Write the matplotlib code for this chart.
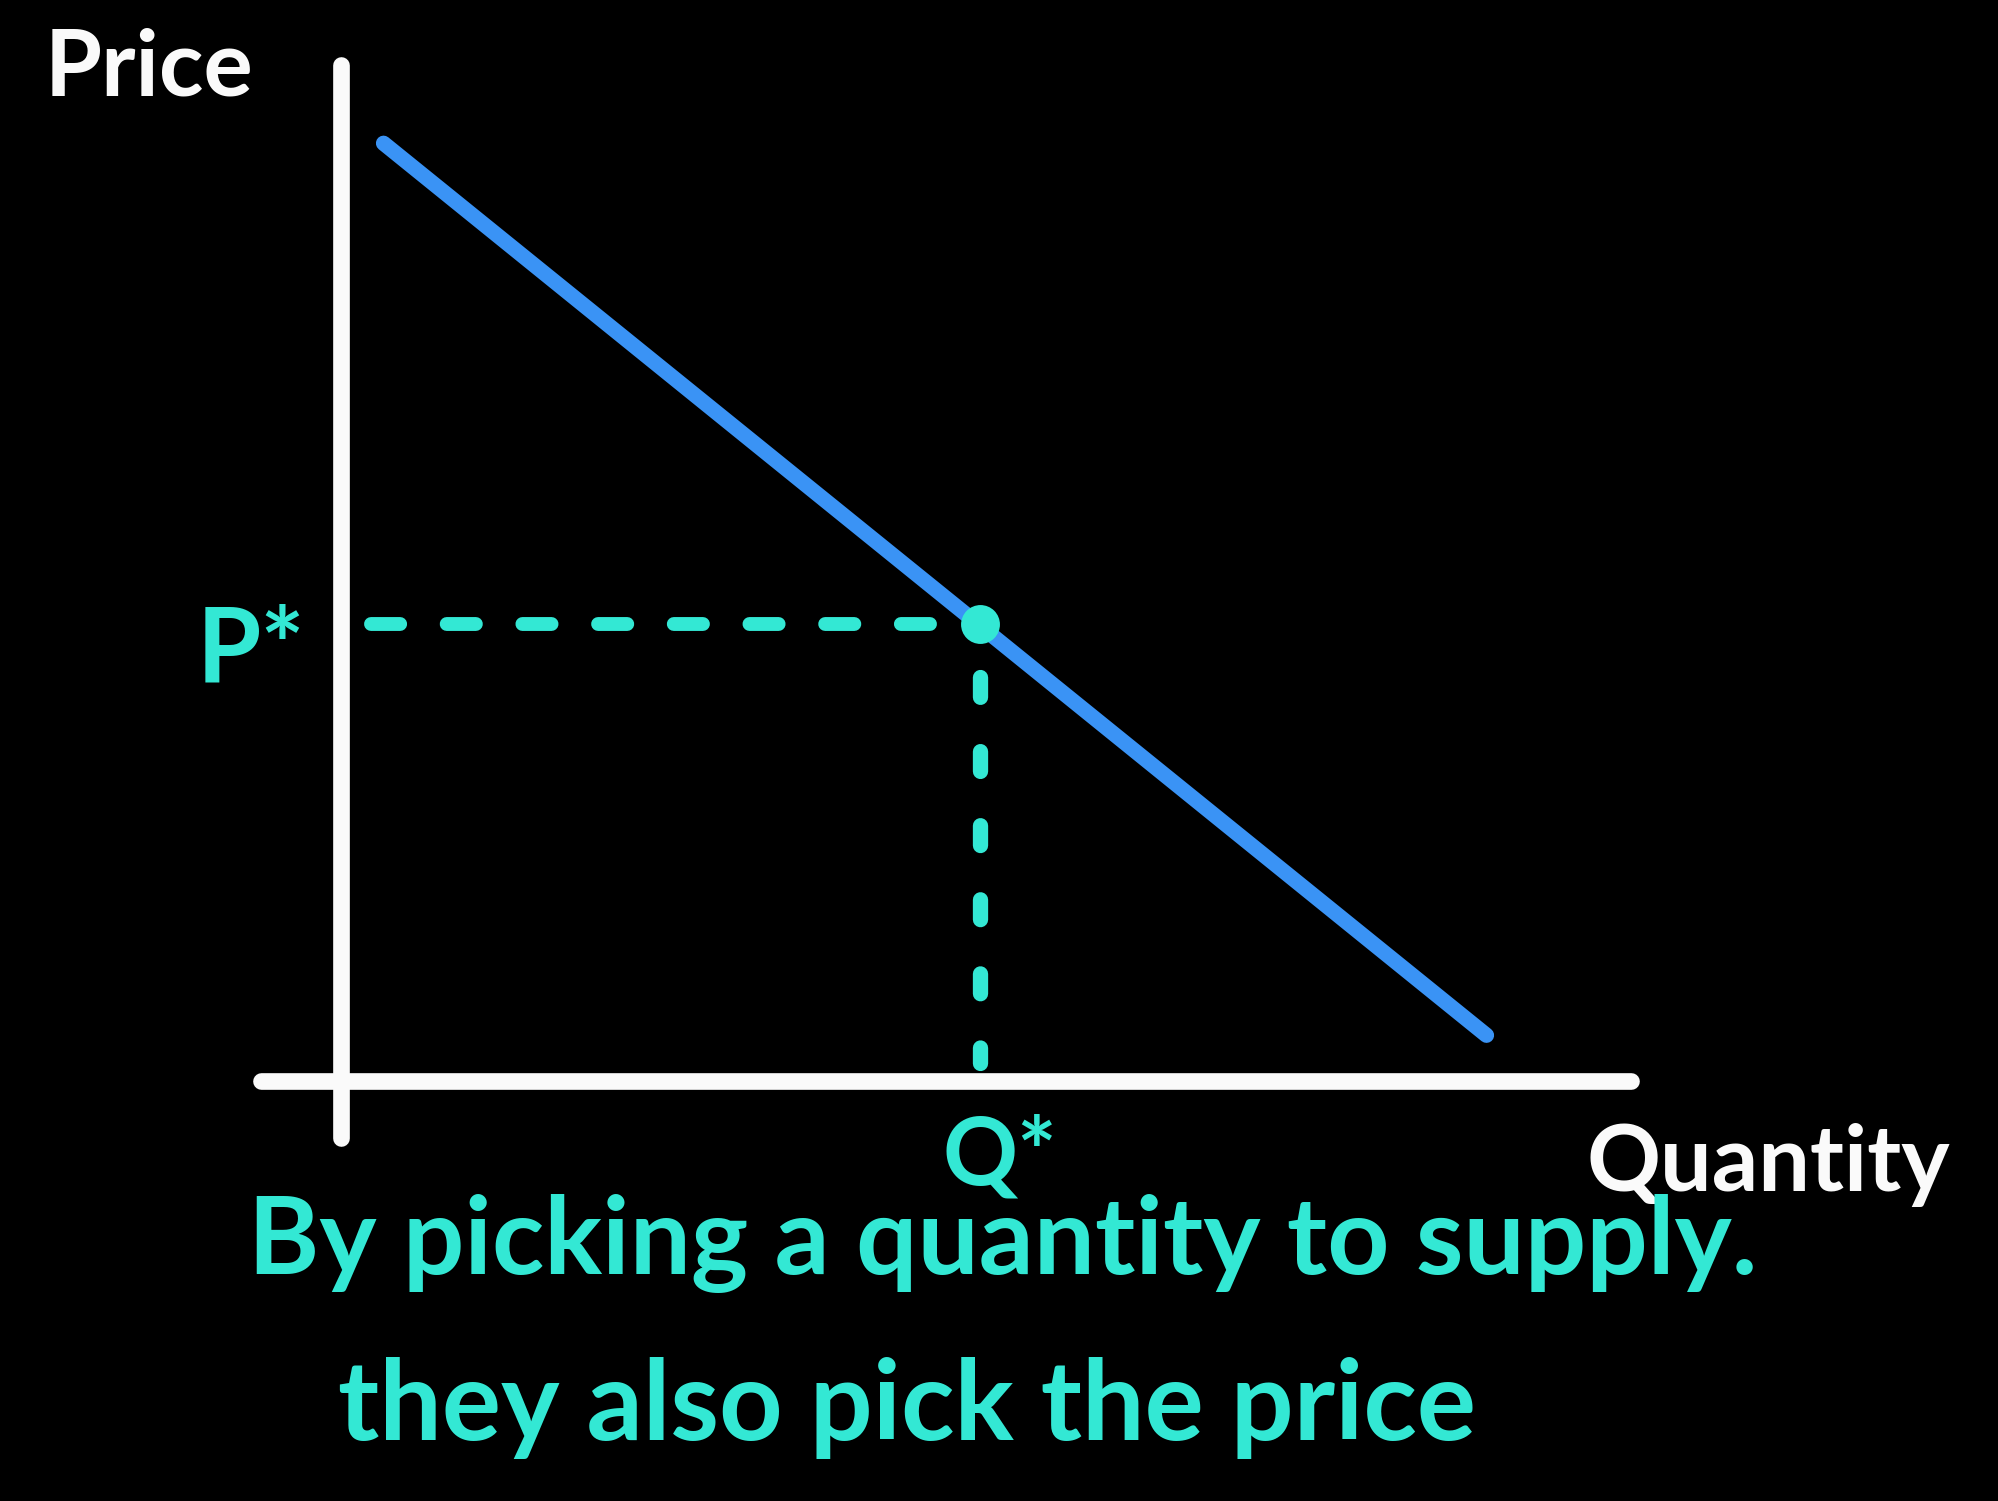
import matplotlib
matplotlib.use("Agg")
import matplotlib.pyplot as plt

# ---- data ----
demand_q = [0.33, 8.88]
demand_p = [9.23, 0.45]
q_star = 4.95
p_star = 4.50
axis_labels = ["Price", "Quantity"]
eq_labels = ["P*", "Q*"]
caption = ["By picking a quantity to supply.", "they also pick the price"]

W, H = 1998, 1501
TEAL = "#33E8D4"
BLUE = "#3A93F5"
WHITE = "#FAFAFA"

fig = plt.figure(figsize=(W / 100, H / 100), dpi=100, facecolor="black")
ax = fig.add_axes([0, 0, 1, 1])
ax.set_facecolor("black")
ax.set_xlim(-2.643, 12.845)
ax.set_ylim(-4.134, 10.640)
ax.axis("off")

# axes lines
ax.plot([0, 0], [-0.56, 10.0], color=WHITE, lw=12, solid_capstyle="round")
ax.plot([-0.62, 10.0], [0, 0], color=WHITE, lw=12, solid_capstyle="round")

# demand curve
ax.plot(demand_q, demand_p, color=BLUE, lw=11, solid_capstyle="round")

# dashed guides
ax.plot([0.23, q_star - 0.38], [p_star, p_star], color=TEAL, lw=10,
        dashes=(2.1, 3.35), dash_capstyle="round")
ax.plot([q_star, q_star], [p_star - 0.52, 0.18], color=TEAL, lw=11,
        dashes=(1.3, 3.55), dash_capstyle="round")
ax.plot([q_star], [p_star], "o", color=TEAL, ms=28, mec="none")

fig.canvas.draw()
renderer = fig.canvas.get_renderer()


def fit_text(s, left, baseline, width, color, weight="bold"):
    t = fig.text(left / W, 1 - baseline / H, s, color=color, fontsize=50,
                 family=["Lato", "DejaVu Sans"], fontweight=weight,
                 ha="left", va="baseline")
    bb = t.get_window_extent(renderer)
    t.set_fontsize(50 * width / bb.width)
    return t


fit_text(axis_labels[0], 45, 96, 210, WHITE)
fit_text(axis_labels[1], 1586, 1191, 364, WHITE)
fit_text(eq_labels[0], 197, 682, 109, TEAL)
fit_text(eq_labels[1], 943, 1185, 115, TEAL)
fit_text(caption[0], 248, 1274, 1510, TEAL)
fit_text(caption[1], 338, 1440, 1140, TEAL)

fig.savefig("out.png", dpi=100, facecolor="black")
